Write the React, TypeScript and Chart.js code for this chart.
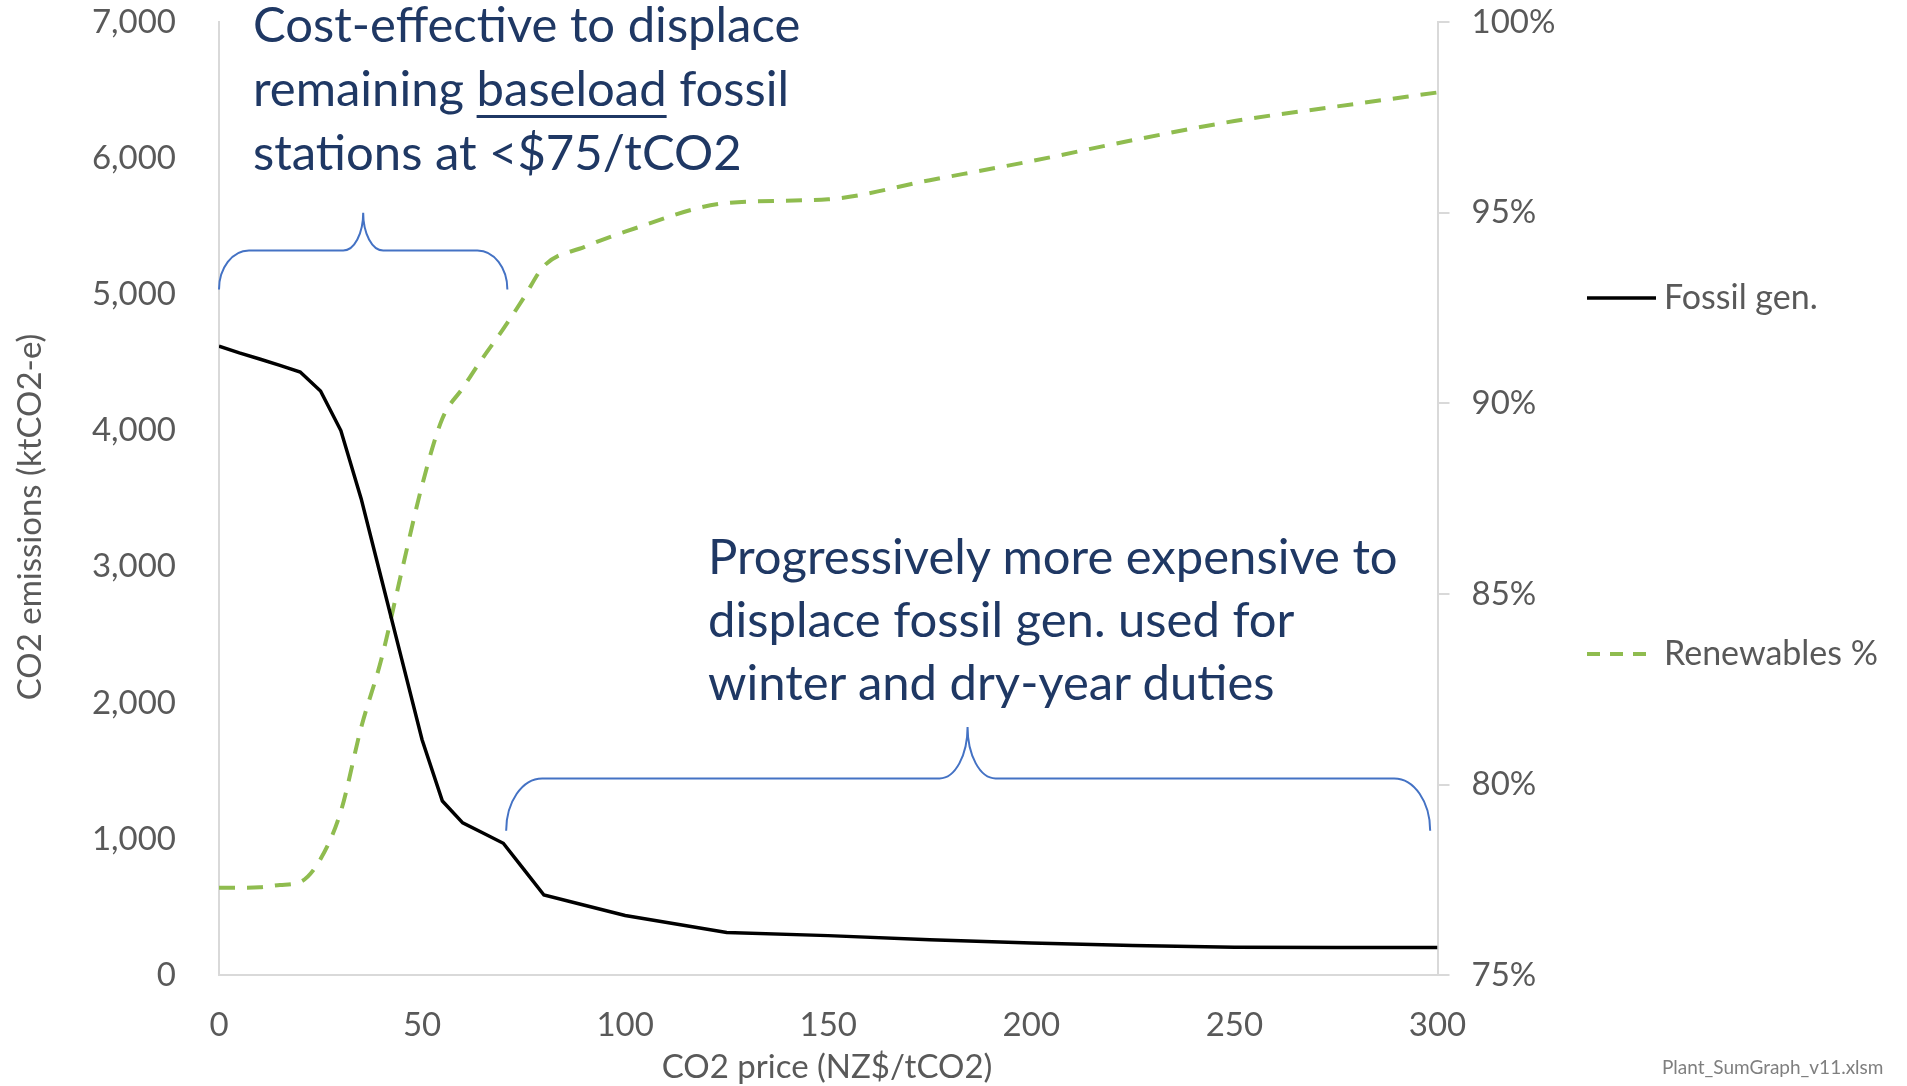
import React, { useEffect, useRef } from "react";
import { Chart, registerables } from "chart.js";

Chart.register(...registerables);

// ---- data ----
const prices = [0, 5, 10, 15, 20, 25, 30, 35, 40, 45, 50, 55, 60, 65, 70, 75, 80, 90, 100, 125, 150, 175, 200, 225, 250, 275, 300];
const fossilGen = [4620, 4570, 4525, 4478, 4430, 4290, 4000, 3500, 2910, 2320, 1730, 1280, 1120, 1045, 970, 780, 590, 515, 440, 315, 292, 262, 238, 220, 207, 205, 205];
const renewablesPct = [77.3, 77.3, 77.31, 77.37, 77.45, 78.05, 79.3, 81.5, 83.3, 85.6, 87.85, 89.6, 90.4, 91.2, 91.95, 92.76, 93.6, 94.1, 94.5, 95.25, 95.35, 95.85, 96.35, 96.9, 97.4, 97.78, 98.15];
const seriesNames = ["Fossil gen.", "Renewables %"];
const xAxisTitle = "CO2 price (NZ$/tCO2)";
const yAxisTitle = "CO2 emissions (ktCO2-e)";
const footnote = "Plant_SumGraph_v11.xlsm";

const FONT = 'Lato, "Open Sans", sans-serif';
const TICK_COLOR = "#595959";
const AXIS_COLOR = "#D9D9D9";
const GREEN = "#8FBC4F";
const NAVY = "#1F3864";
const BRACE = "#4472C4";
const GREEN_DASH = [16, 12];

function drawBrace(
  ctx: CanvasRenderingContext2D,
  xs: any,
  ys: any,
  x0v: number,
  x1v: number,
  tipV: number,
  baseV: number,
  barV: number,
  tipYV: number,
  corner: number,
  tipW: number
) {
  const x0 = xs.getPixelForValue(x0v);
  const x1 = xs.getPixelForValue(x1v);
  const xt = xs.getPixelForValue(tipV);
  const yb = ys.getPixelForValue(baseV);
  const yh = ys.getPixelForValue(barV);
  const yt = ys.getPixelForValue(tipYV);
  const k = 0.552;
  ctx.beginPath();
  ctx.moveTo(x0, yb);
  ctx.bezierCurveTo(x0, yb - k * (yb - yh), x0 + corner * (1 - k), yh, x0 + corner, yh);
  ctx.lineTo(xt - tipW, yh);
  ctx.bezierCurveTo(xt - tipW * (1 - k), yh, xt, yt + k * (yh - yt), xt, yt);
  ctx.bezierCurveTo(xt, yt + k * (yh - yt), xt + tipW * (1 - k), yh, xt + tipW, yh);
  ctx.lineTo(x1 - corner, yh);
  ctx.bezierCurveTo(x1 - corner * (1 - k), yh, x1, yb - k * (yb - yh), x1, yb);
  ctx.stroke();
}

const decorPlugin = {
  id: "decor",
  afterDatasetsDraw(chart: any) {
    const ctx = chart.ctx as CanvasRenderingContext2D;
    const xs = chart.scales.x;
    const ys = chart.scales.y;
    ctx.save();
    ctx.strokeStyle = BRACE;
    ctx.lineWidth = 2;
    drawBrace(ctx, xs, ys, 0, 71, 35.5, 5036, 5322, 5599, 30, 20);
    drawBrace(ctx, xs, ys, 70.7, 298.2, 184.3, 1062, 1446, 1823, 36, 28);
    ctx.restore();
  },
  afterDraw(chart: any) {
    const ctx = chart.ctx as CanvasRenderingContext2D;
    ctx.save();
    // legend
    const items = [
      { y: 298, color: "#000000", dash: [] as number[], width: 3.5 },
      { y: 654, color: GREEN, dash: [13, 10], width: 4 },
    ];
    items.forEach((it, i) => {
      ctx.beginPath();
      ctx.setLineDash(it.dash);
      ctx.strokeStyle = it.color;
      ctx.lineWidth = it.width;
      ctx.moveTo(1587, it.y);
      ctx.lineTo(1656, it.y);
      ctx.stroke();
      ctx.setLineDash([]);
      ctx.fillStyle = TICK_COLOR;
      ctx.font = `34px ${FONT}`;
      ctx.textAlign = "left";
      ctx.textBaseline = "middle";
      ctx.fillText(seriesNames[i], 1664, it.y);
    });
    // axis titles
    ctx.fillStyle = TICK_COLOR;
    ctx.font = `33px ${FONT}`;
    ctx.textAlign = "center";
    ctx.textBaseline = "middle";
    ctx.fillText(xAxisTitle, 827, 1067);
    ctx.save();
    ctx.translate(30, 517);
    ctx.rotate(-Math.PI / 2);
    ctx.fillText(yAxisTitle, 0, 0);
    ctx.restore();
    ctx.restore();
  },
};

export default function App() {
  const ref = useRef<HTMLCanvasElement | null>(null);

  useEffect(() => {
    document.body.style.margin = "0";
    if (!ref.current) return;
    const chart = new Chart(ref.current, {
      type: "line",
      data: {
        datasets: [
          {
            label: seriesNames[0],
            data: prices.map((p, i) => ({ x: p, y: fossilGen[i] })),
            borderColor: "#000000",
            borderWidth: 3.5,
            pointRadius: 0,
            tension: 0,
            yAxisID: "y",
          },
          {
            label: seriesNames[1],
            data: prices.map((p, i) => ({ x: p, y: renewablesPct[i] })),
            borderColor: GREEN,
            borderWidth: 4,
            borderDash: GREEN_DASH,
            pointRadius: 0,
            cubicInterpolationMode: "monotone",
            yAxisID: "y1",
          },
        ],
      },
      options: {
        animation: false,
        responsive: false,
        devicePixelRatio: 1,
        layout: { padding: { top: 21.9, left: 0, right: 0, bottom: 0 } },
        plugins: { legend: { display: false }, tooltip: { enabled: false } },
        scales: {
          x: {
            type: "linear",
            min: 0,
            max: 300,
            ticks: { stepSize: 50, color: TICK_COLOR, font: { family: FONT, size: 33 }, padding: 30, maxRotation: 0 },
            grid: { display: false, drawTicks: false },
            border: { display: true, color: AXIS_COLOR, width: 2 },
            afterFit: (s: any) => {
              s.height = 110.6;
              s.paddingLeft = 0;
              s.paddingRight = 0;
            },
          },
          y: {
            type: "linear",
            position: "left",
            min: 0,
            max: 7000,
            ticks: {
              stepSize: 1000,
              color: TICK_COLOR,
              font: { family: FONT, size: 33 },
              padding: 43,
              callback: (v: any) => Number(v).toLocaleString("en-US"),
            },
            grid: { display: false, drawTicks: false },
            border: { display: true, color: AXIS_COLOR, width: 2 },
            afterFit: (s: any) => {
              s.width = 219;
              s.paddingTop = 0;
              s.paddingBottom = 0;
            },
          },
          y1: {
            type: "linear",
            position: "right",
            min: 75,
            max: 100,
            ticks: {
              stepSize: 5,
              color: TICK_COLOR,
              font: { family: FONT, size: 33 },
              padding: 22,
              callback: (v: any) => `${v}%`,
            },
            grid: { display: true, drawOnChartArea: false, drawTicks: true, tickLength: 12, color: AXIS_COLOR, lineWidth: 2 },
            border: { display: true, color: AXIS_COLOR, width: 2 },
            afterFit: (s: any) => {
              s.width = 469.5;
              s.paddingTop = 0;
              s.paddingBottom = 0;
            },
          },
        },
      },
      plugins: [decorPlugin],
    } as any);
    return () => chart.destroy();
  }, []);

  const annotBase: React.CSSProperties = {
    position: "absolute",
    fontFamily: FONT,
    fontSize: 49,
    color: NAVY,
    whiteSpace: "nowrap",
    margin: 0,
  };

  return (
    <div style={{ position: "absolute", left: 0, top: 0, width: 1907, height: 1086, background: "#ffffff", overflow: "hidden" }}>
      <canvas ref={ref} width={1907} height={1086} style={{ position: "absolute", left: 0, top: 0, width: 1907, height: 1086 }} />
      <div style={{ ...annotBase, left: 253, top: -8.6, lineHeight: "64px" }}>
        <div>Cost-effective to displace</div>
        <div>
          remaining{" "}
          <span style={{ textDecoration: "underline", textUnderlineOffset: "9px", textDecorationThickness: "3px" }}>baseload</span>{" "}
          fossil
        </div>
        <div>stations at &lt;$75/tCO2</div>
      </div>
      <div style={{ ...annotBase, left: 708, top: 524.4, lineHeight: "63px" }}>
        <div>Progressively more expensive to</div>
        <div>displace fossil gen. used for</div>
        <div>winter and dry-year duties</div>
      </div>
      <div
        style={{
          position: "absolute",
          left: 1662,
          top: 1055,
          fontFamily: FONT,
          fontSize: 19,
          color: "#7F7F7F",
          whiteSpace: "nowrap",
          lineHeight: "24px",
        }}
      >
        {footnote}
      </div>
    </div>
  );
}
